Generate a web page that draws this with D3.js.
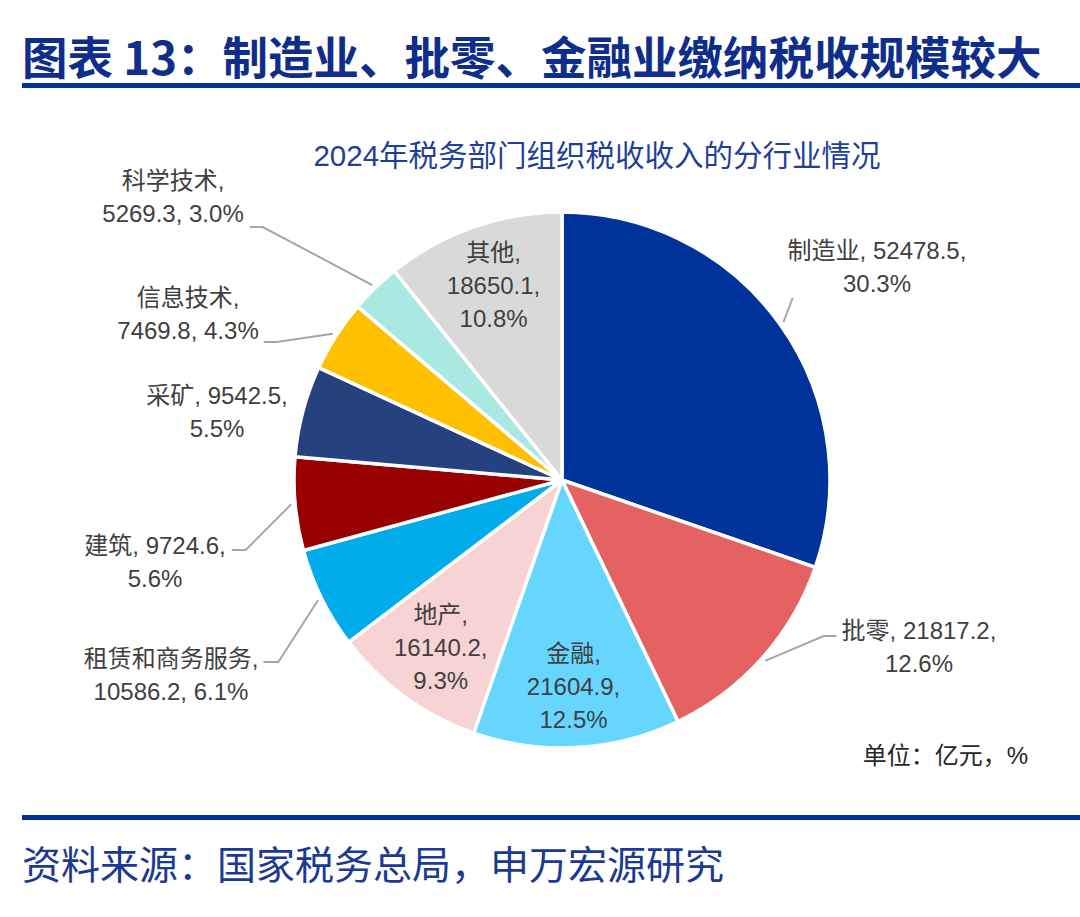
<!DOCTYPE html>
<html>
<head>
<meta charset="utf-8">
<script src="https://cdn.jsdelivr.net/npm/d3@7"></script>
<style>
  body { margin: 0; background: #fff; }
  text { font-family: "Liberation Sans", Arial, "Noto Sans CJK SC", sans-serif; }
</style>
</head>
<body>
<svg width="1080" height="917"></svg>
<script>
const industries = ["制造业", "批零", "金融", "地产", "租赁和商务服务", "建筑", "采矿", "信息技术", "科学技术", "其他"];
const taxRevenue = [52478.5, 21817.2, 21604.9, 16140.2, 10586.2, 9724.6, 9542.5, 7469.8, 5269.3, 18650.1];
const sliceColors = ["#003399", "#E56262", "#66D6FF", "#F8D3D4", "#00ADEA", "#990000", "#25427E", "#FFC000", "#AAE8E2", "#D9D9D9"];

// where Excel put each data label (best fit), not data
// wrap: 0 = "名, 值," / "占比"   1 = "名," / "值, 占比"   2 = three lines
const labelLayout = [
  { wrap: 0, dx: 315, dy: -213, side: "left", gap: -5, tail: 0, attachDy: 31 },
  { wrap: 0, dx: 357, dy: 167, side: "left", gap: 5, tail: 13, attachDy: -11 },
  { wrap: 2, inside: true },
  { wrap: 2, inside: true },
  { wrap: 1, dx: -391, dy: 195, side: "right", gap: 5, tail: 15, attachDy: -13 },
  { wrap: 0, dx: -407, dy: 82, side: "right", gap: 6, tail: 14, attachDy: -12 },
  { wrap: 0, dx: -345, dy: -68, leader: false },
  { wrap: 1, dx: -374, dy: -166, side: "right", gap: 5, tail: 13, attachDy: 28 },
  { wrap: 1, dx: -389, dy: -283, side: "right", gap: 6, tail: 13, attachDy: 30 },
  { wrap: 2, inside: true }
];

const svg = d3.select("svg");
const cx = 562, cy = 480, radius = 268;
const lineGap = 33;
const labelSize = 24;

// 标题
svg.append("text")
  .attr("x", 22).attr("y", 55)
  .attr("dominant-baseline", "central")
  .style("font-family", "'Noto Sans CJK SC', sans-serif")
  .attr("font-weight", "bold")
  .attr("font-size", 45.5)
  .attr("fill", "#0F2E8C")
  .text("图表 13：制造业、批零、金融业缴纳税收规模较大");

svg.append("rect").attr("x", 22).attr("y", 83).attr("width", 1058).attr("height", 5).attr("fill", "#003399");
svg.append("rect").attr("x", 22).attr("y", 815).attr("width", 1058).attr("height", 5).attr("fill", "#003399");

svg.append("text")
  .attr("x", 22).attr("y", 862)
  .attr("dominant-baseline", "central")
  .style("font-family", "'Noto Sans CJK SC', sans-serif")
  .attr("font-size", 39)
  .attr("fill", "#1A3A94")
  .text("资料来源：国家税务总局，申万宏源研究");

svg.append("text")
  .attr("x", 597).attr("y", 155)
  .attr("text-anchor", "middle")
  .attr("dominant-baseline", "central")
  .attr("font-size", 29.5)
  .attr("fill", "#1F3F99")
  .text("2024年税务部门组织税收收入的分行业情况");

svg.append("text")
  .attr("x", 1028).attr("y", 755)
  .attr("text-anchor", "end")
  .attr("dominant-baseline", "central")
  .attr("font-size", 24)
  .attr("fill", "#262626")
  .text("单位：亿元，%");

// 饼图
const total = d3.sum(taxRevenue);
const pie = d3.pie().sort(null).value(d => d);
const arcs = pie(taxRevenue);
const arc = d3.arc().innerRadius(0).outerRadius(radius);

const g = svg.append("g").attr("transform", `translate(${cx},${cy})`);

g.selectAll("path.slice")
  .data(arcs)
  .join("path")
  .attr("class", "slice")
  .attr("d", arc)
  .attr("fill", (d, i) => sliceColors[i])
  .attr("stroke", "#fff")
  .attr("stroke-width", 3.5)
  .attr("stroke-linejoin", "round");

function labelLines(i) {
  const name = industries[i];
  const val = taxRevenue[i].toFixed(1);
  const pct = (taxRevenue[i] / total * 100).toFixed(1) + "%";
  const w = labelLayout[i].wrap;
  if (w === 0) return [`${name}, ${val},`, pct];
  if (w === 1) return [`${name},`, `${val}, ${pct}`];
  return [`${name},`, `${val},`, pct];
}

arcs.forEach((d, i) => {
  const lay = labelLayout[i];
  const mid = (d.startAngle + d.endAngle) / 2;
  let lx, ly;
  if (lay.inside) {
    lx = Math.sin(mid) * radius * 0.77;
    ly = -Math.cos(mid) * radius * 0.77;
  } else {
    lx = lay.dx;
    ly = lay.dy;
  }
  const lines = labelLines(i);
  const t = g.append("text")
    .attr("text-anchor", "middle")
    .attr("font-size", labelSize)
    .attr("fill", "#404040");
  lines.forEach((s, k) => {
    t.append("tspan")
      .attr("x", lx)
      .attr("y", ly + (k - (lines.length - 1) / 2) * lineGap)
      .attr("dy", "0.36em")
      .text(s);
  });

  if (lay.inside || lay.leader === false) return;
  let boxW = 0;
  t.selectAll("tspan").each(function () { boxW = Math.max(boxW, this.getComputedTextLength()); });
  const r0 = radius + 4;
  const start = [Math.sin(mid) * r0, -Math.cos(mid) * r0];
  const endY = ly + lay.attachDy;
  let endX, elbowX;
  if (lay.side === "right") {
    endX = lx + boxW / 2 + lay.gap;
    elbowX = endX + lay.tail;
  } else {
    endX = lx - boxW / 2 - lay.gap;
    elbowX = endX - lay.tail;
  }
  g.append("path")
    .attr("d", d3.line()([start, [elbowX, endY], [endX, endY]]))
    .attr("fill", "none")
    .attr("stroke", "#A6A6A6")
    .attr("stroke-width", 2);
});
</script>
</body>
</html>
